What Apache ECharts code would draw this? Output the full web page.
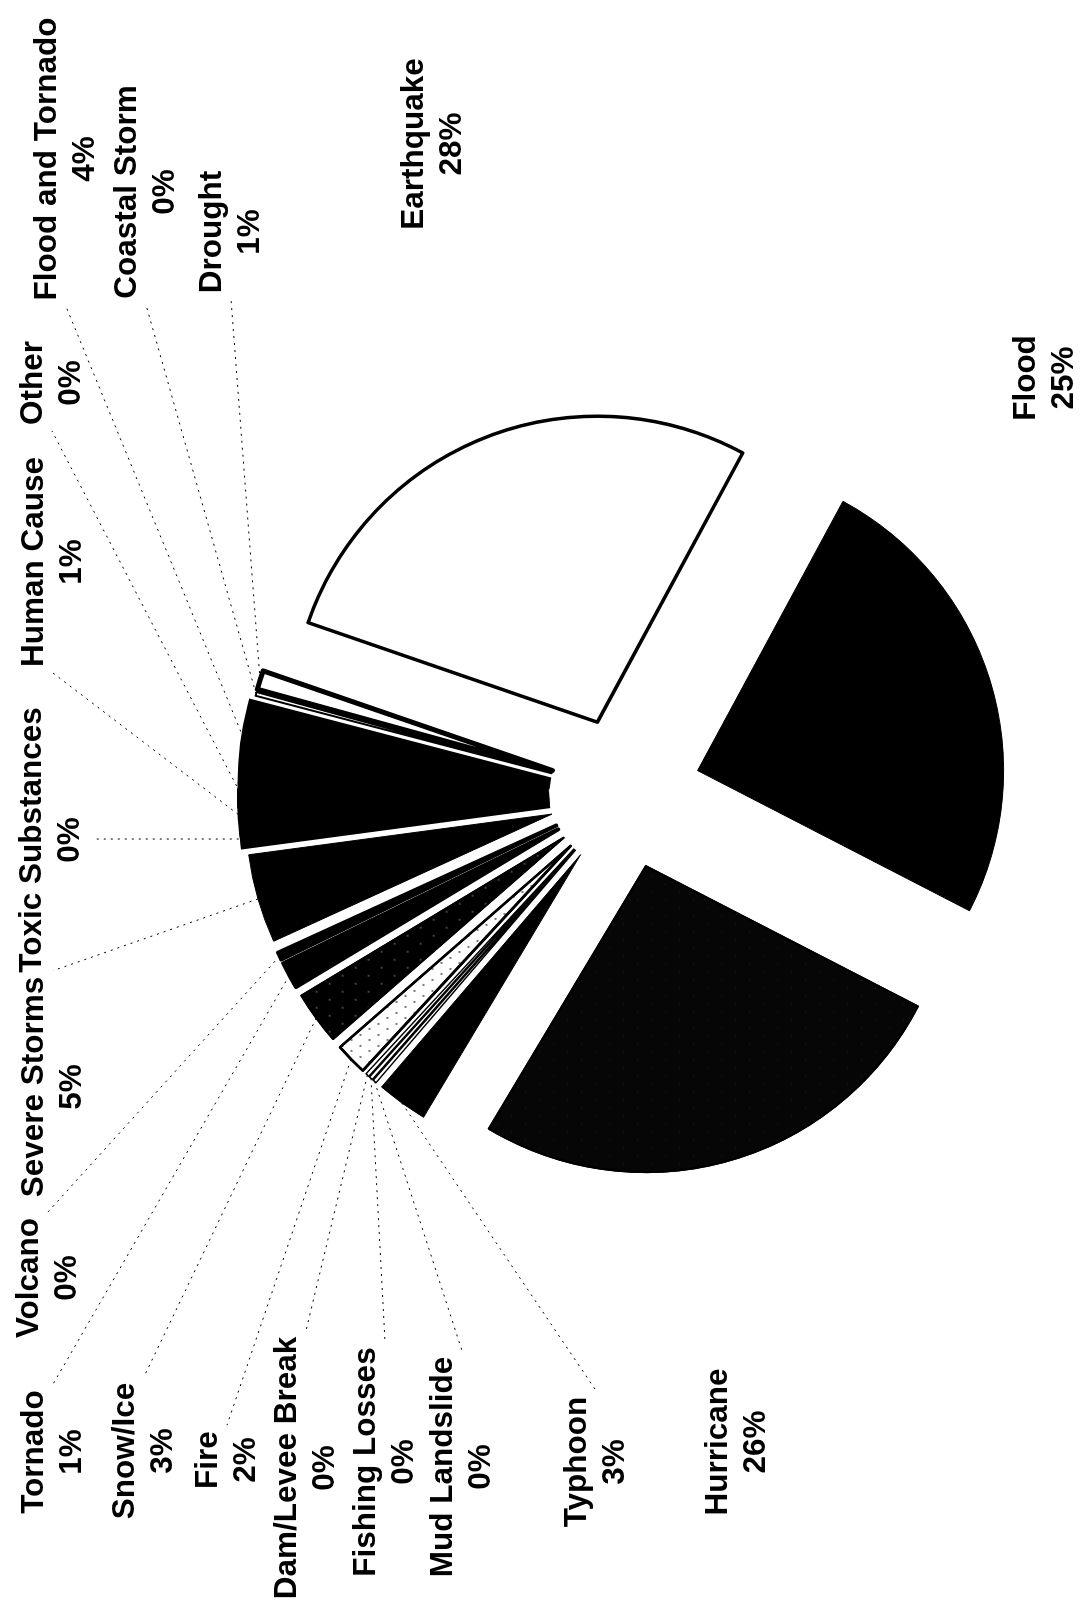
<!DOCTYPE html>
<html>
<head>
<meta charset="utf-8">
<title>Disaster types</title>
<script src="https://cdn.jsdelivr.net/npm/echarts@6/dist/echarts.min.js"></script>
<style>
  html, body { margin: 0; padding: 0; background: #fff; overflow: hidden; }
  #page { position: absolute; left: 0; top: 0; width: 1090px; height: 1604px; overflow: hidden; background: #fff; }
  /* the chart is laid out landscape and turned a quarter turn counter-clockwise onto the portrait page */
  #chart { position: absolute; left: 0; top: 0; width: 1604px; height: 1090px;
           transform-origin: 0 0; transform: translate(0, 1604px) rotate(-90deg); }
</style>
</head>
<body>
<div id="page"><div id="chart"></div></div>
<script>
// Disaster categories, in clockwise order around the pie
const CATEGORIES = [
  'Earthquake', 'Flood', 'Hurricane', 'Typhoon', 'Mud Landslide', 'Fishing Losses',
  'Dam/Levee Break', 'Fire', 'Snow/Ice', 'Tornado', 'Volcano', 'Severe Storms',
  'Toxic Substances', 'Human Cause', 'Other', 'Flood and Tornado', 'Coastal Storm', 'Drought'
];
// Share of the total, in percent
const SHARES = [
  27.6, 24.7, 26.0, 2.7, 0.2, 0.2,
  0.2, 1.7, 2.8, 1.4, 0.4, 4.7,
  0.4, 1.3, 0.4, 4.1, 0.2, 1.0
];

const TOTAL = SHARES.reduce((a, b) => a + b, 0);

// Pie geometry (landscape layout, px)
const CENTER = [811, 625];
const RADIUS = 306;
const EXPLODE = 76;
const START = 71;

// Stipple textures
const DOTS_BLACK = { symbol: 'circle', symbolSize: 1, color: 'rgba(0,0,0,0.7)',
                     dashArrayX: [[2, 9], [0, 5, 2, 4]], dashArrayY: [2, 7] };
const DOTS_WHITE = { symbol: 'circle', symbolSize: 1, color: 'rgba(255,255,255,0.35)',
                     dashArrayX: [[2, 14], [0, 8, 2, 6]], dashArrayY: [2, 11] };
const DOTS_FAINT = { symbol: 'circle', symbolSize: 1, color: 'rgba(255,255,255,0.15)',
                     dashArrayX: [[1, 15], [0, 8, 1, 7]], dashArrayY: [1, 13] };

// Fill / outline for each kind of slice
const SOLID = { color: '#000', borderColor: '#000', borderWidth: 1 };
const SOLID_WIDE = { color: '#000', borderColor: '#000', borderWidth: 12, borderJoin: 'miter', borderMiterLimit: 4 };
const OUTLINED = (w) => ({ color: '#fff', borderColor: '#000', borderWidth: w });
const SLICE_STYLE = {
  'Earthquake': OUTLINED(3.5),
  'Flood': SOLID,
  'Hurricane': { color: '#060606', borderColor: '#000', borderWidth: 2, decal: DOTS_FAINT },
  'Typhoon': SOLID,
  'Mud Landslide': OUTLINED(1.5),
  'Fishing Losses': OUTLINED(1.5),
  'Dam/Levee Break': OUTLINED(1.5),
  'Fire': { color: '#fff', borderColor: '#000', borderWidth: 2.5, decal: DOTS_BLACK },
  'Snow/Ice': { color: '#000', borderColor: '#000', borderWidth: 2, decal: DOTS_WHITE },
  'Tornado': { color: '#000', borderColor: '#000', borderWidth: 4 },
  'Volcano': { color: '#000', borderColor: '#000', borderWidth: 4 },
  'Severe Storms': SOLID,
  'Toxic Substances': SOLID_WIDE,
  'Human Cause': SOLID_WIDE,
  'Other': SOLID_WIDE,
  'Flood and Tornado': SOLID_WIDE,
  'Coastal Storm': OUTLINED(2),
  'Drought': OUTLINED(5)
};

// Label block centres (landscape layout, px)
const LABEL_AT = {
  'Earthquake': [1460, 433], 'Flood': [1226, 1045], 'Hurricane': [162, 737],
  'Typhoon': [142, 596], 'Mud Landslide': [137, 462], 'Fishing Losses': [142, 385],
  'Dam/Levee Break': [136, 306], 'Fire': [144, 227], 'Snow/Ice': [153, 144],
  'Tornado': [152, 53], 'Volcano': [326, 48], 'Severe Storms': [517, 53],
  'Toxic Substances': [764, 51], 'Human Cause': [1042, 53], 'Other': [1221, 52],
  'Flood and Tornado': [1445, 66], 'Coastal Storm': [1412, 146], 'Drought': [1372, 231]
};
// Slices whose labels sit next to them and need no leader line
const NO_LEADER = ['Earthquake', 'Flood', 'Hurricane'];

// exploded slices
const sliceData = CATEGORIES.map((name, i) => ({
  name: name,
  value: SHARES[i],
  selected: true,
  itemStyle: SLICE_STYLE[name]
}));

// label carrier: same angles, reaching the outer edge of the exploded slices
const labelData = CATEGORIES.map((name, i) => ({
  name: name,
  value: SHARES[i],
  labelLine: { show: NO_LEADER.indexOf(name) < 0 }
}));

const chart = echarts.init(document.getElementById('chart'), null, { renderer: 'canvas' });

chart.setOption({
  backgroundColor: '#fff',
  animation: false,
  series: [{
    type: 'pie',
    center: CENTER,
    radius: RADIUS,
    startAngle: START,
    clockwise: true,
    selectedMode: 'multiple',
    selectedOffset: EXPLODE,
    avoidLabelOverlap: false,
    emphasis: { disabled: true },
    label: { show: false },
    labelLine: { show: false },
    data: sliceData
  }, {
    type: 'pie',
    center: CENTER,
    radius: RADIUS + EXPLODE,
    startAngle: START,
    clockwise: true,
    silent: true,
    z: 3,
    avoidLabelOverlap: false,
    minShowLabelAngle: 0,
    emphasis: { disabled: true },
    itemStyle: { color: 'rgba(0,0,0,0)', borderWidth: 0 },
    label: {
      show: true,
      position: 'outside',
      color: '#000',
      fontFamily: '"Liberation Sans", Arial, sans-serif',
      fontWeight: 'bold',
      fontSize: 31.5,
      lineHeight: 38,
      align: 'center',
      formatter: (p) => p.name + '\n' + Math.round(p.value / TOTAL * 100) + '%'
    },
    labelLine: {
      show: true,
      smooth: false,
      lineStyle: { color: '#000', width: 1, type: [2, 5] }
    },
    labelLayout: function (p) {
      const name = CATEGORIES[p.dataIndex];
      const pos = LABEL_AT[name];
      const out = { x: pos[0], y: pos[1], align: 'center', verticalAlign: 'middle', hideOverlap: false };
      const pts = p.labelLinePoints;
      if (pts && pts.length) {
        const w = p.labelRect.width, h = p.labelRect.height;
        const l = pos[0] - w / 2, r = pos[0] + w / 2, b = pos[1] + h / 2;
        const s = pts[0];
        let a;
        if (s[0] > r) a = [r + 6, pos[1]];
        else if (s[0] < l) a = [l - 6, pos[1]];
        else a = [s[0], b + 6];
        out.labelLinePoints = [s, [(s[0] + a[0]) / 2, (s[1] + a[1]) / 2], a];
      }
      return out;
    },
    data: labelData
  }]
});
</script>
</body>
</html>
